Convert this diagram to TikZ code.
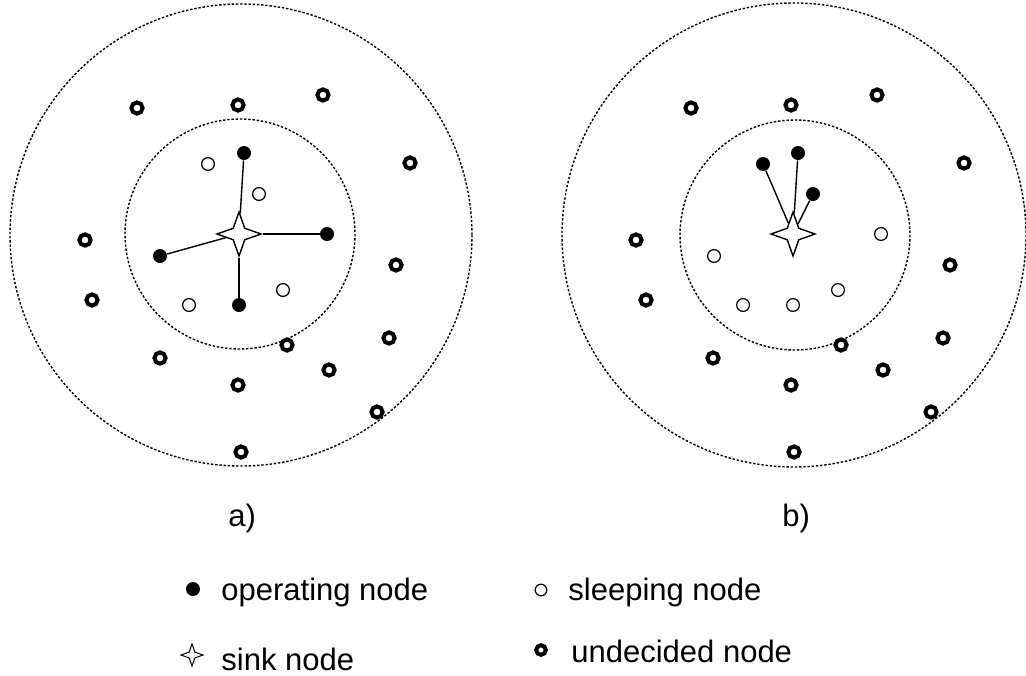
\documentclass[tikz,border=0pt]{standalone}
\usepackage{fontspec}
\setmainfont{Liberation Sans}
\usetikzlibrary{shapes.geometric}

\begin{document}
\begin{tikzpicture}[x=0.5pt,y=-0.5pt,
    operating/.style={circle,fill=black,inner sep=0pt,minimum size=7pt},
    sleeping/.style={circle,draw,line width=0.6pt,inner sep=0pt,minimum size=6.4pt},
    undecided/.style={circle,draw,line width=2pt,inner sep=0pt,minimum size=5.6pt},
    sink/.style={star,star points=4,star point ratio=2.7,draw,line width=0.7pt,
      fill=white,inner sep=0pt,minimum size=22pt},
    radio/.style={line width=0.7pt,dash pattern=on 1.2pt off 0.9pt},
    link/.style={line width=0.7pt},
    legend/.style={anchor=base west,inner sep=0pt,font=\fontsize{15.5pt}{18pt}\selectfont}]
    \useasboundingbox (0,0) rectangle (1026,675);

    % transmission ranges
    \draw[radio] (241,235) circle[radius=231];
    \draw[radio] (240,234) circle[radius=115];
    \draw[radio] (794,235) circle[radius=232];
    \draw[radio] (795,235) circle[radius=115];

    % a) sink with four operating nodes
    \node[sink] at (239,234) (sinkA) {};
    \node[operating] at (244,153) (opA1) {};
    \node[operating] at (327,234) (opA2) {};
    \node[operating] at (160,256) (opA3) {};
    \node[operating] at (239,305) (opA4) {};
    \node[sleeping] at (208,164) (slA1) {};
    \node[sleeping] at (259,194) (slA2) {};
    \node[sleeping] at (189,305) (slA3) {};
    \node[sleeping] at (283,290) (slA4) {};
    \node[undecided] at (137,108) (unA1) {};
    \node[undecided] at (238,105) (unA2) {};
    \node[undecided] at (323,95) (unA3) {};
    \node[undecided] at (410,163) (unA4) {};
    \node[undecided] at (85,240) (unA5) {};
    \node[undecided] at (396,265) (unA6) {};
    \node[undecided] at (92,300) (unA7) {};
    \node[undecided] at (287,345) (unA8) {};
    \node[undecided] at (389,338) (unA9) {};
    \node[undecided] at (160,358) (unA10) {};
    \node[undecided] at (329,370) (unA11) {};
    \node[undecided] at (238,385) (unA12) {};
    \node[undecided] at (377,412) (unA13) {};
    \node[undecided] at (241,452) (unA14) {};
    \draw[link] (opA1) -- (sinkA);
    \draw[link] (opA2) -- (sinkA);
    \draw[link] (opA3) -- (sinkA);
    \draw[link] (opA4) -- (sinkA);

    % b) sink with three operating nodes
    \node[sink] at (793,234) (sinkB) {};
    \node[operating] at (763,164) (opB1) {};
    \node[operating] at (798,153) (opB2) {};
    \node[operating] at (813,194) (opB3) {};
    \node[sleeping] at (881,234) (slB1) {};
    \node[sleeping] at (714,256) (slB2) {};
    \node[sleeping] at (743,305) (slB3) {};
    \node[sleeping] at (793,305) (slB4) {};
    \node[sleeping] at (838,290) (slB5) {};
    \node[undecided] at (691,108) (unB1) {};
    \node[undecided] at (791,105) (unB2) {};
    \node[undecided] at (877,95) (unB3) {};
    \node[undecided] at (964,163) (unB4) {};
    \node[undecided] at (636,240) (unB5) {};
    \node[undecided] at (950,265) (unB6) {};
    \node[undecided] at (646,300) (unB7) {};
    \node[undecided] at (841,345) (unB8) {};
    \node[undecided] at (943,338) (unB9) {};
    \node[undecided] at (713,358) (unB10) {};
    \node[undecided] at (883,370) (unB11) {};
    \node[undecided] at (791,385) (unB12) {};
    \node[undecided] at (931,412) (unB13) {};
    \node[undecided] at (794,452) (unB14) {};
    \draw[link] (opB1) -- (sinkB);
    \draw[link] (opB2) -- (sinkB);
    \draw[link] (opB3) -- (sinkB);

    \node[legend] at (228,526) (capA) {a)};
    \node[legend] at (782,526) (capB) {b)};

    % legend
    \node[operating] at (193,589) (keyOp) {};
    \node[legend] at (221,600) (txtOp) {operating node};
    \node[sleeping,minimum size=5.8pt] at (541,590) (keySl) {};
    \node[legend] at (568,600) (txtSl) {sleeping node};
    \node[sink,minimum size=11pt,line width=0.5pt] at (192,655) (keySink) {};
    \node[legend] at (221,670) (txtSink) {sink node};
    \node[undecided,minimum size=4.8pt] at (541,650) (keyUn) {};
    \node[legend] at (571,662) (txtUn) {undecided node};
\end{tikzpicture}
\end{document}
